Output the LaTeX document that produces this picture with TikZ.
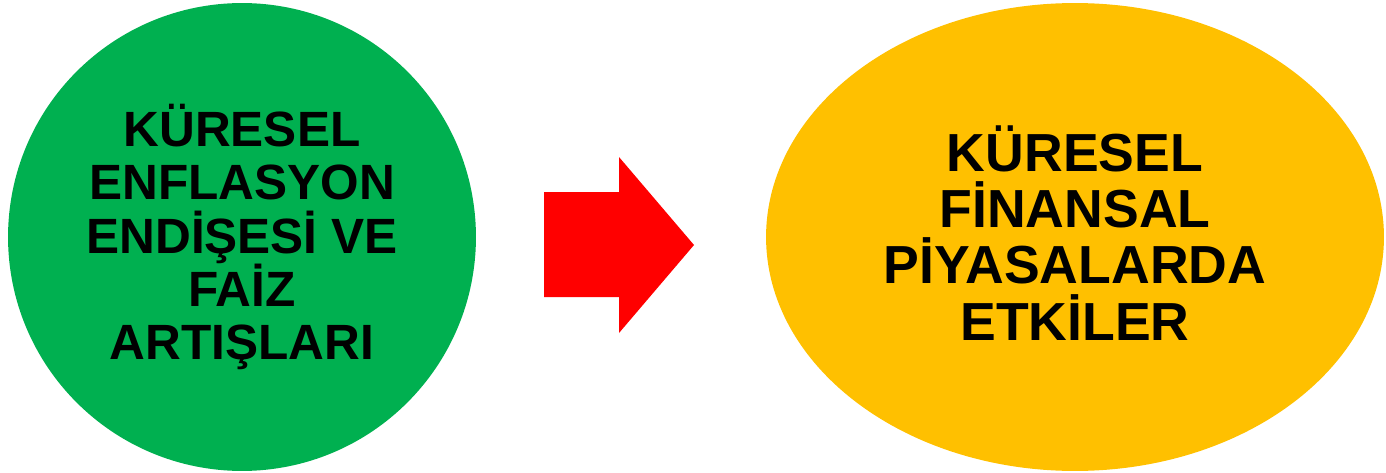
\documentclass[tikz,border=0pt]{standalone}
\usepackage{fontspec}
\setmainfont{Liberation Sans}
\usetikzlibrary{shapes.geometric,positioning}
\usepackage{xcolor}
\definecolor{kgreen}{RGB}{0,176,80}
\definecolor{kamber}{RGB}{255,192,0}
\definecolor{kred}{RGB}{255,0,0}

\begin{document}
\begin{tikzpicture}[x=0.02cm,y=-0.02cm,
  bubble/.style={ellipse,inner sep=0pt,align=center},
  cause/.style={bubble,fill=kgreen,minimum width=9.36cm,minimum height=9.36cm,
                font=\fontsize{28.2pt}{30.2pt}\selectfont\bfseries},
  effect/.style={bubble,fill=kamber,minimum width=12.36cm,minimum height=9.36cm,
                 text depth=0.16cm,
                 font=\fontsize{30.5pt}{32pt}\selectfont\bfseries},
  bigarr/.style={fill=kred}
]
  \useasboundingbox (0,0) rectangle (1386,473);

  % Cause and effect
  \node[cause]  (enflasyon) at (242,237)  {KÜRESEL\\ENFLASYON\\ENDİŞESİ VE\\FAİZ\\ARTIŞLARI};
  \node[effect] (piyasa)    at (1075,237) {KÜRESEL\\FİNANSAL\\PİYASALARDA\\ETKİLER};

  % Block arrow between them
  \fill[bigarr] (544,192) -- (619,192) -- (619,157) -- (694,245)
               -- (619,333) -- (619,297) -- (544,297) -- cycle;
\end{tikzpicture}
\end{document}
